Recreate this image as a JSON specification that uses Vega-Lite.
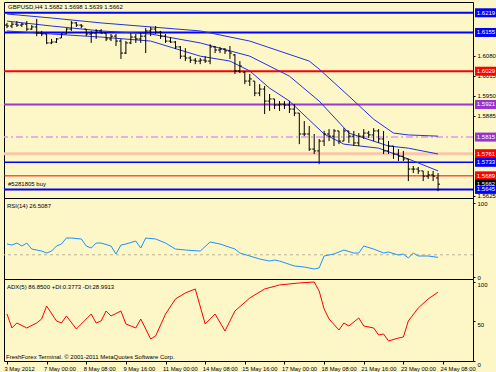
{
"$schema": "https://vega.github.io/schema/vega-lite/v6.json",
"background": "#fdf6c6",
"padding": {"left": 2, "top": 1, "right": 1, "bottom": 0},
"spacing": 0,
"bounds": "flush",
"config": {
 "view": {"stroke": "#000000", "strokeWidth": 1},
 "font": "Liberation Sans",
 "axis": {"labelFont": "Liberation Sans", "labelFontSize": 6, "labelColor": "#000000", "tickColor": "#000000", "domain": false, "grid": false, "tickSize": 2, "labelPadding": 2, "labelOverlap": false},
 "text": {"font": "Liberation Sans", "fontSize": 6, "color": "#000000"}
},
"datasets": {
 "ohlc": [
  {"i":0,"o":1.6179,"h":1.6186,"l":1.6169,"c":1.6176},
  {"i":1,"o":1.6176,"h":1.6189,"l":1.6169,"c":1.6182},
  {"i":2,"o":1.6182,"h":1.6192,"l":1.6173,"c":1.6179},
  {"i":3,"o":1.6179,"h":1.6186,"l":1.6173,"c":1.6182},
  {"i":4,"o":1.6182,"h":1.6192,"l":1.6160,"c":1.6166},
  {"i":5,"o":1.6166,"h":1.6179,"l":1.6163,"c":1.6173},
  {"i":6,"o":1.6173,"h":1.6199,"l":1.6143,"c":1.6153},
  {"i":7,"o":1.6153,"h":1.6160,"l":1.6143,"c":1.6150},
  {"i":8,"o":1.6150,"h":1.6150,"l":1.6117,"c":1.6121},
  {"i":9,"o":1.6121,"h":1.6134,"l":1.6117,"c":1.6124},
  {"i":10,"o":1.6124,"h":1.6137,"l":1.6121,"c":1.6134},
  {"i":11,"o":1.6137,"h":1.6153,"l":1.6137,"c":1.6150},
  {"i":12,"o":1.6150,"h":1.6169,"l":1.6150,"c":1.6166},
  {"i":13,"o":1.6166,"h":1.6192,"l":1.6160,"c":1.6186},
  {"i":14,"o":1.6186,"h":1.6189,"l":1.6173,"c":1.6179},
  {"i":15,"o":1.6179,"h":1.6182,"l":1.6169,"c":1.6176},
  {"i":16,"o":1.6166,"h":1.6166,"l":1.6143,"c":1.6150},
  {"i":17,"o":1.6150,"h":1.6160,"l":1.6121,"c":1.6153},
  {"i":18,"o":1.6153,"h":1.6166,"l":1.6134,"c":1.6160},
  {"i":19,"o":1.6160,"h":1.6166,"l":1.6150,"c":1.6153},
  {"i":20,"o":1.6153,"h":1.6153,"l":1.6127,"c":1.6134},
  {"i":21,"o":1.6134,"h":1.6150,"l":1.6127,"c":1.6143},
  {"i":22,"o":1.6143,"h":1.6150,"l":1.6111,"c":1.6127},
  {"i":23,"o":1.6127,"h":1.6134,"l":1.6069,"c":1.6088},
  {"i":24,"o":1.6088,"h":1.6127,"l":1.6085,"c":1.6121},
  {"i":25,"o":1.6121,"h":1.6153,"l":1.6117,"c":1.6140},
  {"i":26,"o":1.6140,"h":1.6150,"l":1.6121,"c":1.6134},
  {"i":27,"o":1.6134,"h":1.6153,"l":1.6121,"c":1.6143},
  {"i":28,"o":1.6143,"h":1.6169,"l":1.6088,"c":1.6160},
  {"i":29,"o":1.6160,"h":1.6173,"l":1.6143,"c":1.6166},
  {"i":30,"o":1.6166,"h":1.6176,"l":1.6150,"c":1.6156},
  {"i":31,"o":1.6156,"h":1.6160,"l":1.6134,"c":1.6143},
  {"i":32,"o":1.6143,"h":1.6150,"l":1.6121,"c":1.6127},
  {"i":33,"o":1.6127,"h":1.6140,"l":1.6121,"c":1.6124},
  {"i":34,"o":1.6124,"h":1.6127,"l":1.6101,"c":1.6108},
  {"i":35,"o":1.6108,"h":1.6111,"l":1.6069,"c":1.6078},
  {"i":36,"o":1.6078,"h":1.6104,"l":1.6062,"c":1.6072},
  {"i":37,"o":1.6072,"h":1.6078,"l":1.6056,"c":1.6065},
  {"i":38,"o":1.6065,"h":1.6072,"l":1.6052,"c":1.6062},
  {"i":39,"o":1.6062,"h":1.6072,"l":1.6052,"c":1.6065},
  {"i":40,"o":1.6065,"h":1.6078,"l":1.6056,"c":1.6062},
  {"i":41,"o":1.6062,"h":1.6117,"l":1.6052,"c":1.6108},
  {"i":42,"o":1.6108,"h":1.6111,"l":1.6088,"c":1.6098},
  {"i":43,"o":1.6098,"h":1.6108,"l":1.6088,"c":1.6101},
  {"i":44,"o":1.6101,"h":1.6104,"l":1.6085,"c":1.6095},
  {"i":45,"o":1.6095,"h":1.6111,"l":1.6069,"c":1.6088},
  {"i":46,"o":1.6082,"h":1.6085,"l":1.6020,"c":1.6030},
  {"i":47,"o":1.6030,"h":1.6062,"l":1.6023,"c":1.6046},
  {"i":48,"o":1.6026,"h":1.6030,"l":1.5987,"c":1.5997},
  {"i":49,"o":1.5997,"h":1.6020,"l":1.5981,"c":1.6004},
  {"i":50,"o":1.5997,"h":1.5997,"l":1.5948,"c":1.5958},
  {"i":51,"o":1.5958,"h":1.5987,"l":1.5948,"c":1.5971},
  {"i":52,"o":1.5971,"h":1.5981,"l":1.5890,"c":1.5932},
  {"i":53,"o":1.5932,"h":1.5955,"l":1.5900,"c":1.5939},
  {"i":54,"o":1.5939,"h":1.5939,"l":1.5906,"c":1.5919},
  {"i":55,"o":1.5919,"h":1.5932,"l":1.5900,"c":1.5922},
  {"i":56,"o":1.5922,"h":1.5932,"l":1.5906,"c":1.5919},
  {"i":57,"o":1.5919,"h":1.5932,"l":1.5893,"c":1.5906},
  {"i":58,"o":1.5906,"h":1.5922,"l":1.5883,"c":1.5893},
  {"i":59,"o":1.5893,"h":1.5893,"l":1.5792,"c":1.5825},
  {"i":60,"o":1.5825,"h":1.5867,"l":1.5818,"c":1.5825},
  {"i":61,"o":1.5825,"h":1.5851,"l":1.5770,"c":1.5776},
  {"i":62,"o":1.5776,"h":1.5825,"l":1.5760,"c":1.5770},
  {"i":63,"o":1.5770,"h":1.5809,"l":1.5727,"c":1.5802},
  {"i":64,"o":1.5802,"h":1.5835,"l":1.5786,"c":1.5825},
  {"i":65,"o":1.5825,"h":1.5841,"l":1.5802,"c":1.5818},
  {"i":66,"o":1.5818,"h":1.5841,"l":1.5786,"c":1.5835},
  {"i":67,"o":1.5835,"h":1.5835,"l":1.5792,"c":1.5802},
  {"i":68,"o":1.5802,"h":1.5844,"l":1.5802,"c":1.5835},
  {"i":69,"o":1.5835,"h":1.5835,"l":1.5796,"c":1.5818},
  {"i":70,"o":1.5818,"h":1.5835,"l":1.5786,"c":1.5796},
  {"i":71,"o":1.5796,"h":1.5828,"l":1.5786,"c":1.5818},
  {"i":72,"o":1.5818,"h":1.5841,"l":1.5809,"c":1.5828},
  {"i":73,"o":1.5828,"h":1.5835,"l":1.5812,"c":1.5822},
  {"i":74,"o":1.5822,"h":1.5844,"l":1.5802,"c":1.5835},
  {"i":75,"o":1.5835,"h":1.5841,"l":1.5796,"c":1.5809},
  {"i":76,"o":1.5809,"h":1.5835,"l":1.5760,"c":1.5770},
  {"i":77,"o":1.5770,"h":1.5802,"l":1.5760,"c":1.5786},
  {"i":78,"o":1.5786,"h":1.5786,"l":1.5744,"c":1.5760},
  {"i":79,"o":1.5760,"h":1.5776,"l":1.5737,"c":1.5753},
  {"i":80,"o":1.5753,"h":1.5770,"l":1.5737,"c":1.5744},
  {"i":81,"o":1.5744,"h":1.5744,"l":1.5672,"c":1.5711},
  {"i":82,"o":1.5711,"h":1.5721,"l":1.5698,"c":1.5711},
  {"i":83,"o":1.5711,"h":1.5718,"l":1.5695,"c":1.5705},
  {"i":84,"o":1.5705,"h":1.5705,"l":1.5672,"c":1.5688},
  {"i":85,"o":1.5688,"h":1.5705,"l":1.5679,"c":1.5692},
  {"i":86,"o":1.5692,"h":1.5705,"l":1.5672,"c":1.5688},
  {"i":87,"o":1.5682,"h":1.5698,"l":1.5639,"c":1.5662}
 ],
 "bands": [
  {"band":"upper","i":0,"v":1.6215},{"band":"upper","i":9,"v":1.6202},{"band":"upper","i":19,"v":1.6186},{"band":"upper","i":29,"v":1.6173},{"band":"upper","i":39,"v":1.6160},{"band":"upper","i":49,"v":1.6127},{"band":"upper","i":61,"v":1.6062},{"band":"upper","i":63,"v":1.6036},{"band":"upper","i":69,"v":1.5948},{"band":"upper","i":74,"v":1.5873},{"band":"upper","i":78,"v":1.5828},{"band":"upper","i":81,"v":1.5822},{"band":"upper","i":87,"v":1.5818},
  {"band":"middle","i":0,"v":1.6192},{"band":"middle","i":9,"v":1.6176},{"band":"middle","i":19,"v":1.6160},{"band":"middle","i":29,"v":1.6150},{"band":"middle","i":39,"v":1.6121},{"band":"middle","i":49,"v":1.6078},{"band":"middle","i":57,"v":1.6013},{"band":"middle","i":63,"v":1.5932},{"band":"middle","i":69,"v":1.5828},{"band":"middle","i":77,"v":1.5786},{"band":"middle","i":81,"v":1.5779},{"band":"middle","i":87,"v":1.5760},
  {"band":"lower","i":0,"v":1.6160},{"band":"lower","i":9,"v":1.6150},{"band":"lower","i":19,"v":1.6140},{"band":"lower","i":29,"v":1.6127},{"band":"lower","i":39,"v":1.6078},{"band":"lower","i":45,"v":1.6062},{"band":"lower","i":49,"v":1.6030},{"band":"lower","i":53,"v":1.5974},{"band":"lower","i":57,"v":1.5932},{"band":"lower","i":64,"v":1.5825},{"band":"lower","i":68,"v":1.5792},{"band":"lower","i":75,"v":1.5779},{"band":"lower","i":81,"v":1.5744},{"band":"lower","i":87,"v":1.5705}
 ],
 "levels": [
  {"name":"1.6219","p":1.6219},{"name":"1.6155","p":1.6155},{"name":"1.6029","p":1.6029},{"name":"1.5921","p":1.5921},{"name":"1.5815","p":1.5815},{"name":"1.5761","p":1.5761},{"name":"1.5733","p":1.5733},{"name":"1.5689","p":1.5689},{"name":"1.5645","p":1.5645}
 ],
 "tags": [
  {"name":"1.6219","p":1.6219},{"name":"1.6155","p":1.6155},{"name":"1.6029","p":1.6029},{"name":"1.5921","p":1.5921},{"name":"1.5815","p":1.5815},{"name":"1.5761","p":1.5761},{"name":"1.5733","p":1.5733},{"name":"1.5689","p":1.5689},{"name":"1.5662","p":1.5662},{"name":"1.5645","p":1.5645}
 ],
 "rsi": [
  {"i":0,"v":44.6},{"i":1,"v":43.2},{"i":2,"v":45.9},{"i":3,"v":41.9},{"i":4,"v":45.9},{"i":5,"v":37.8},{"i":7,"v":35.1},{"i":8,"v":32.4},{"i":9,"v":35.1},{"i":10,"v":41.9},{"i":11,"v":44.6},{"i":12,"v":52.7},{"i":13,"v":52.7},{"i":15,"v":51.4},{"i":16,"v":41.9},{"i":17,"v":39.2},{"i":18,"v":45.9},{"i":19,"v":45.9},{"i":21,"v":41.9},{"i":22,"v":31.1},{"i":23,"v":43.2},{"i":24,"v":44.6},{"i":26,"v":48.6},{"i":27,"v":39.2},{"i":28,"v":52.7},{"i":30,"v":51.4},{"i":32,"v":45.9},{"i":34,"v":37.8},{"i":36,"v":36.5},{"i":39,"v":35.1},{"i":41,"v":47.3},{"i":43,"v":44.6},{"i":46,"v":37.8},{"i":47,"v":32.4},{"i":49,"v":28.4},{"i":51,"v":24.3},{"i":53,"v":21.6},{"i":54,"v":23.0},{"i":55,"v":21.6},{"i":58,"v":14.9},{"i":60,"v":13.5},{"i":62,"v":10.8},{"i":63,"v":12.2},{"i":64,"v":28.4},{"i":66,"v":31.1},{"i":68,"v":36.5},{"i":70,"v":32.4},{"i":71,"v":32.4},{"i":72,"v":41.9},{"i":74,"v":37.8},{"i":76,"v":32.4},{"i":77,"v":33.8},{"i":79,"v":29.7},{"i":80,"v":31.1},{"i":81,"v":25.7},{"i":82,"v":32.4},{"i":83,"v":28.4},{"i":85,"v":28.4},{"i":87,"v":26.5}
 ],
 "adx": [
  {"i":0,"v":59.3},{"i":1,"v":41.7},{"i":2,"v":48.0},{"i":4,"v":41.7},{"i":6,"v":48.0},{"i":7,"v":53.0},{"i":8,"v":69.4},{"i":10,"v":50.5},{"i":11,"v":48.0},{"i":12,"v":56.8},{"i":14,"v":40.4},{"i":17,"v":59.3},{"i":18,"v":48.0},{"i":19,"v":50.5},{"i":20,"v":63.1},{"i":21,"v":56.8},{"i":23,"v":63.1},{"i":24,"v":46.7},{"i":26,"v":41.7},{"i":27,"v":53.0},{"i":29,"v":27.8},{"i":30,"v":31.6},{"i":32,"v":59.3},{"i":34,"v":78.3},{"i":36,"v":85.9},{"i":38,"v":90.9},{"i":40,"v":46.7},{"i":42,"v":59.3},{"i":44,"v":37.9},{"i":46,"v":63.1},{"i":49,"v":79.5},{"i":52,"v":90.9},{"i":55,"v":96.0},{"i":59,"v":98.5},{"i":62,"v":99.7},{"i":63,"v":88.4},{"i":64,"v":65.7},{"i":65,"v":53.0},{"i":67,"v":39.1},{"i":68,"v":48.0},{"i":69,"v":44.2},{"i":71,"v":54.3},{"i":72,"v":44.2},{"i":74,"v":41.7},{"i":75,"v":32.8},{"i":76,"v":34.1},{"i":77,"v":25.3},{"i":79,"v":29.0},{"i":80,"v":30.3},{"i":81,"v":50.5},{"i":83,"v":66.9},{"i":85,"v":78.3},{"i":87,"v":86.85}
 ]
},
"vconcat": [
 {
  "width": 469, "height": 196,
  "layer": [
   {"data": {"name": "levels"},
    "mark": {"type": "rule", "strokeCap": "butt"},
    "encoding": {
     "y": {"field": "p", "type": "quantitative", "title": null, "scale": {"domain": [1.5617, 1.6254], "nice": false, "zero": false},
           "axis": {"orient": "right", "values": [1.6080, 1.6015, 1.5950, 1.5885, 1.5625], "format": ".4f", "title": null}},
     "color": {"field": "name", "type": "nominal", "legend": null,
       "scale": {"domain": ["1.6219","1.6155","1.6029","1.5921","1.5815","1.5761","1.5733","1.5689","1.5645"],
                 "range": ["#0000ff","#0000ff","#ff0000","#9a3acc","#dd99ee","#f7c9a9","#0000ff","#ff0000","#0000ff"]}},
     "strokeWidth": {"condition": [{"test": "datum.name === '1.5761'", "value": 3}, {"test": "datum.name === '1.5689'", "value": 1}, {"test": "datum.name === '1.5815' || datum.name === '1.5733'", "value": 1.5}], "value": 2},
     "strokeDash": {"condition": {"test": "datum.name === '1.5815'", "value": [7, 3, 2, 3]}, "value": [1, 0]}
    }},
   {"data": {"name": "bands"},
    "mark": {"type": "line", "color": "#2233e0", "strokeWidth": 1},
    "encoding": {
     "x": {"field": "i", "type": "quantitative", "scale": {"domain": [-0.6, 94.05], "nice": false, "zero": false}, "axis": null},
     "y": {"field": "v", "type": "quantitative", "title": null},
     "detail": {"field": "band"}
    }},
   {"data": {"name": "ohlc"},
    "mark": {"type": "rule", "color": "#000000", "strokeWidth": 1},
    "encoding": {
     "x": {"field": "i", "type": "quantitative", "axis": null},
     "y": {"field": "l", "type": "quantitative", "title": null},
     "y2": {"field": "h"}
    }},
   {"data": {"name": "ohlc"},
    "mark": {"type": "rule", "color": "#000000", "strokeWidth": 1, "xOffset": -2, "x2Offset": 0},
    "encoding": {
     "x": {"field": "i", "type": "quantitative", "axis": null},
     "x2": {"field": "i"},
     "y": {"field": "o", "type": "quantitative", "title": null}
    }},
   {"data": {"name": "ohlc"},
    "mark": {"type": "rule", "color": "#000000", "strokeWidth": 1, "xOffset": 0, "x2Offset": 2},
    "encoding": {
     "x": {"field": "i", "type": "quantitative", "axis": null},
     "x2": {"field": "i"},
     "y": {"field": "c", "type": "quantitative", "title": null}
    }},
   {"data": {"name": "tags"},
    "mark": {"type": "rule", "strokeWidth": 9, "strokeCap": "butt"},
    "encoding": {
     "x": {"datum": 94.46, "type": "quantitative", "axis": null},
     "x2": {"datum": 98.9},
     "y": {"field": "p", "type": "quantitative", "title": null},
     "color": {"field": "name", "type": "nominal", "legend": null,
       "scale": {"domain": ["1.6219","1.6155","1.6029","1.5921","1.5815","1.5761","1.5733","1.5689","1.5662","1.5645"],
                 "range": ["#0000ff","#0000ff","#ff0000","#9933cc","#9933cc","#ff0000","#0000ff","#ff0000","#000000","#0000ff"]}}
    }},
   {"data": {"name": "tags"},
    "mark": {"type": "text", "align": "center", "baseline": "middle", "color": "#ffffff", "fontSize": 6},
    "encoding": {
     "x": {"datum": 96.68, "type": "quantitative", "axis": null},
     "y": {"field": "p", "type": "quantitative", "title": null},
     "text": {"field": "name"}
    }},
   {"data": {"values": [{}]},
    "mark": {"type": "text", "align": "left", "baseline": "middle"},
    "encoding": {
     "x": {"datum": 0.2, "type": "quantitative", "axis": null},
     "y": {"datum": 1.6238, "type": "quantitative", "title": null},
     "text": {"value": "GBPUSD,H4 1.5682 1.5698 1.5639 1.5662"}
    }},
   {"data": {"values": [{}]},
    "mark": {"type": "text", "align": "left", "baseline": "middle"},
    "encoding": {
     "x": {"datum": 0.2, "type": "quantitative", "axis": null},
     "y": {"datum": 1.5663, "type": "quantitative", "title": null},
     "text": {"value": "#5281805 buy"}
    }}
  ],
  "resolve": {"scale": {"color": "independent"}}
 },
 {
  "width": 469, "height": 81,
  "layer": [
   {"data": {"values": [{}]},
    "mark": {"type": "rule", "color": "#b8b49c", "strokeDash": [3, 3], "strokeWidth": 1},
    "encoding": {
     "y": {"datum": 30, "type": "quantitative", "title": null, "scale": {"domain": [-2.7, 106.8], "nice": false, "zero": false},
           "axis": {"orient": "right", "values": [0, 30, 70, 100], "title": null}}
    }},
   {"data": {"name": "rsi"},
    "mark": {"type": "line", "color": "#1e90ff", "strokeWidth": 1},
    "encoding": {
     "x": {"field": "i", "type": "quantitative", "scale": {"domain": [-0.6, 94.05], "nice": false, "zero": false}, "axis": null},
     "y": {"field": "v", "type": "quantitative", "title": null}
    }},
   {"data": {"values": [{}]},
    "mark": {"type": "text", "align": "left", "baseline": "middle"},
    "encoding": {
     "x": {"datum": 0, "type": "quantitative", "axis": null},
     "y": {"datum": 96, "type": "quantitative", "title": null},
     "text": {"value": "RSI(14) 26.5087"}
    }}
  ]
 },
 {
  "width": 469, "height": 82,
  "layer": [
   {"data": {"name": "adx"},
    "mark": {"type": "line", "color": "#ff0000", "strokeWidth": 1},
    "encoding": {
     "x": {"field": "i", "type": "quantitative", "title": null, "scale": {"domain": [-0.6, 94.05], "nice": false, "zero": false},
           "axis": {"orient": "bottom", "title": null, "values": [0, 8, 16, 24, 32, 40, 48, 56, 64, 72, 80, 88],
                    "labelExpr": "['3 May 2012','7 May 00:00','8 May 08:00','9 May 16:00','11 May 00:00','14 May 08:00','15 May 16:00','17 May 00:00','18 May 08:00','21 May 16:00','23 May 00:00','24 May 08:00'][round(datum.value / 8)]",
                    "labelAlign": "left", "labelOffset": -3, "tickSize": 3, "labelPadding": 1, "labelFlush": false, "labelOverlap": false, "labelFontSize": 5.8}},
     "y": {"field": "v", "type": "quantitative", "title": null, "scale": {"domain": [0, 103.5], "nice": false, "zero": false},
           "axis": {"orient": "right", "values": [0, 25, 50, 75, 100], "labelBaseline": "top", "title": null, "labelOverlap": false}}
    }},
   {"data": {"values": [{}]},
    "mark": {"type": "text", "align": "left", "baseline": "middle"},
    "encoding": {
     "x": {"datum": 0, "type": "quantitative", "title": null},
     "y": {"datum": 94, "type": "quantitative", "title": null},
     "text": {"value": "ADX(5) 86.8500 +DI:0.3773 -DI:28.9913"}
    }},
   {"data": {"values": [{}]},
    "mark": {"type": "text", "align": "left", "baseline": "middle"},
    "encoding": {
     "x": {"datum": -0.2, "type": "quantitative", "title": null},
     "y": {"datum": 5.5, "type": "quantitative", "title": null},
     "text": {"value": "FreshForex Terminal. © 2001-2011 MetaQuotes Software Corp."}
    }}
  ]
 }
]
}
